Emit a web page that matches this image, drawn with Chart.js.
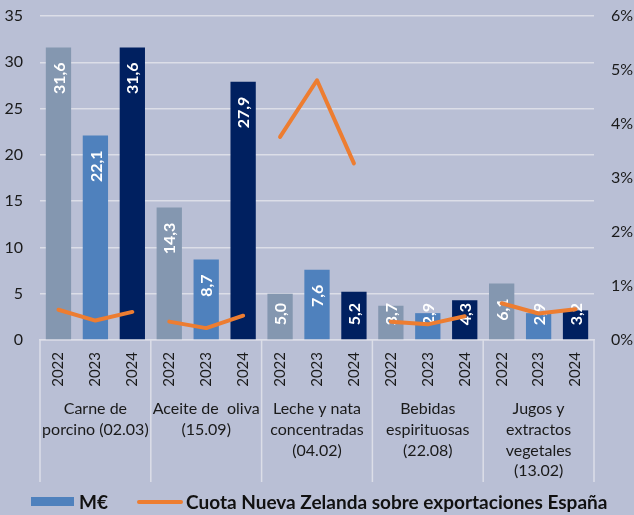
<!DOCTYPE html>
<html>
<head>
<meta charset="utf-8">
<script src="https://cdn.jsdelivr.net/npm/chart.js@4"></script>
<style>
  html, body { margin:0; padding:0; background:#b9bfd5; }
  #wrap { position:relative; width:634px; height:515px; overflow:hidden; background:#b9bfd5; }
  canvas { position:absolute; left:0; top:0; }
  .leg { position:absolute; font-family:Lato, "DejaVu Sans", sans-serif; font-weight:bold; font-size:19px; color:#111; line-height:22px; top:491px; white-space:nowrap; }
  .box { position:absolute; left:31px; top:497px; width:43px; height:9px; background:#4f81bd; }
  .ln { position:absolute; left:137px; top:500px; width:46px; height:4px; border-radius:2px; background:#ed7d31; }
</style>
</head>
<body>
<div id="wrap">
  <canvas id="c" width="634" height="515"></canvas>
  <div class="box"></div>
  <div class="leg" style="left:79px;">M€</div>
  <div class="ln"></div>
  <div class="leg" style="left:186px;">Cuota Nueva Zelanda sobre exportaciones España</div>
</div>
<script>
// ---- data ----
const groups = [
  ["Carne de", "porcino (02.03)"],
  ["Aceite de  oliva", "(15.09)"],
  ["Leche y nata", "concentradas", "(04.02)"],
  ["Bebidas", "espirituosas", "(22.08)"],
  ["Jugos y", "extractos", "vegetales", "(13.02)"]
];
const years = ["2022", "2023", "2024"];
const meur = [31.6, 22.1, 31.6, 14.3, 8.7, 27.9, 5.0, 7.6, 5.2, 3.7, 2.9, 4.3, 6.1, 2.9, 3.2];
const cuota = [0.56, 0.36, 0.52, 0.34, 0.22, 0.45, 3.76, 4.81, 3.27, 0.34, 0.29, 0.44, 0.68, 0.49, 0.57];
const leftTicks = [0, 5, 10, 15, 20, 25, 30, 35];
const rightTicks = [0, 1, 2, 3, 4, 5, 6];

const yearColors = ["#8497b0", "#4f81bd", "#002060"];
const labels = [];
groups.forEach(() => years.forEach(y => labels.push(y)));

const FONT = "Lato, 'DejaVu Sans', sans-serif";
const GRID = "#dcdee8";

const barLabelPlugin = {
  id: 'barLabels',
  afterDatasetDraw(chart, args) {
    if (args.index !== 0) return;
    const ctx = chart.ctx;
    const meta = chart.getDatasetMeta(0);
    ctx.save();
    ctx.font = "bold 16px " + FONT;
    ctx.fillStyle = "#ffffff";
    ctx.textAlign = "left";
    ctx.textBaseline = "middle";
    meta.data.forEach((el, i) => {
      const txt = meur[i].toFixed(1).replace('.', ',');
      const w = ctx.measureText(txt).width;
      let start = el.y + 15;
      if (start + w > el.base - 14) start = el.base - 14 - w;
      ctx.save();
      ctx.translate(el.x, start + w);
      ctx.rotate(-Math.PI / 2);
      ctx.fillText(txt, 0, 1);
      ctx.restore();
    });
    ctx.restore();
  }
};

const groupPlugin = {
  id: 'groups',
  afterDraw(chart) {
    const ctx = chart.ctx;
    const xs = chart.scales.x;
    const area = chart.chartArea;
    const cw = xs.getPixelForValue(1) - xs.getPixelForValue(0);
    ctx.save();
    ctx.strokeStyle = GRID;
    ctx.lineWidth = 1.5;
    for (let g = 0; g <= groups.length; g++) {
      const x = g < groups.length ? xs.getPixelForValue(g * 3) - cw / 2 : xs.getPixelForValue(g * 3 - 1) + cw / 2;
      ctx.beginPath();
      ctx.moveTo(x, area.bottom);
      ctx.lineTo(x, area.bottom + 142);
      ctx.stroke();
    }
    ctx.fillStyle = "#1a1a1a";
    ctx.font = "16px " + FONT;
    ctx.textAlign = "center";
    ctx.textBaseline = "middle";
    groups.forEach((lines, g) => {
      const cx = xs.getPixelForValue(g * 3 + 1);
      lines.forEach((t, k) => {
        ctx.fillText(t, cx, area.bottom + 69 + k * 20.7);
      });
    });
    ctx.restore();
  }
};

new Chart(document.getElementById('c'), {
  data: {
    labels: labels,
    datasets: [
      {
        type: 'bar',
        label: 'M€',
        data: meur,
        yAxisID: 'y',
        order: 1,
        backgroundColor: (c) => yearColors[c.dataIndex % 3],
        categoryPercentage: 1,
        barPercentage: 0.685
      },
      {
        type: 'line',
        label: 'Cuota Nueva Zelanda sobre exportaciones España',
        data: cuota,
        yAxisID: 'y1',
        order: 0,
        borderColor: '#ed7d31',
        borderWidth: 4,
        borderCapStyle: 'round',
        borderJoinStyle: 'round',
        pointRadius: 0,
        tension: 0,
        segment: {
          borderColor: (c) => (c.p0DataIndex % 3 === 2 ? 'rgba(0,0,0,0)' : '#ed7d31')
        }
      }
    ]
  },
  options: {
    responsive: false,
    animation: false,
    devicePixelRatio: 1,
    layout: { padding: { top: 16, left: 0, right: 0, bottom: 0 } },
    plugins: { legend: { display: false }, tooltip: { enabled: false } },
    scales: {
      x: {
        type: 'category',
        offset: true,
        grid: { display: false, drawTicks: false },
        border: { display: true, color: GRID, width: 1.5 },
        ticks: {
          autoSkip: false,
          minRotation: 90,
          maxRotation: 90,
          padding: 12,
          color: '#1a1a1a',
          font: { family: FONT, size: 15 }
        },
        afterFit(s) { s.height = 175; }
      },
      y: {
        position: 'left',
        min: 0,
        max: 35,
        afterBuildTicks(s) { s.ticks = leftTicks.map(v => ({ value: v })); },
        grid: { color: GRID, lineWidth: 1.5, drawTicks: false },
        border: { display: false },
        ticks: {
          padding: 17,
          color: '#1a1a1a',
          font: { family: FONT, size: 16 }
        },
        afterFit(s) { s.width = 40; s.paddingTop = 0; s.paddingBottom = 0; }
      },
      y1: {
        position: 'right',
        min: 0,
        max: 6,
        afterBuildTicks(s) { s.ticks = rightTicks.map(v => ({ value: v })); },
        grid: { display: false, drawTicks: false },
        border: { display: false },
        ticks: {
          padding: 17,
          color: '#1a1a1a',
          font: { family: FONT, size: 16 },
          callback: (v) => v + '%'
        },
        afterFit(s) { s.width = 40; s.paddingTop = 0; s.paddingBottom = 0; }
      }
    }
  },
  plugins: [barLabelPlugin, groupPlugin]
});
</script>
</body>
</html>
